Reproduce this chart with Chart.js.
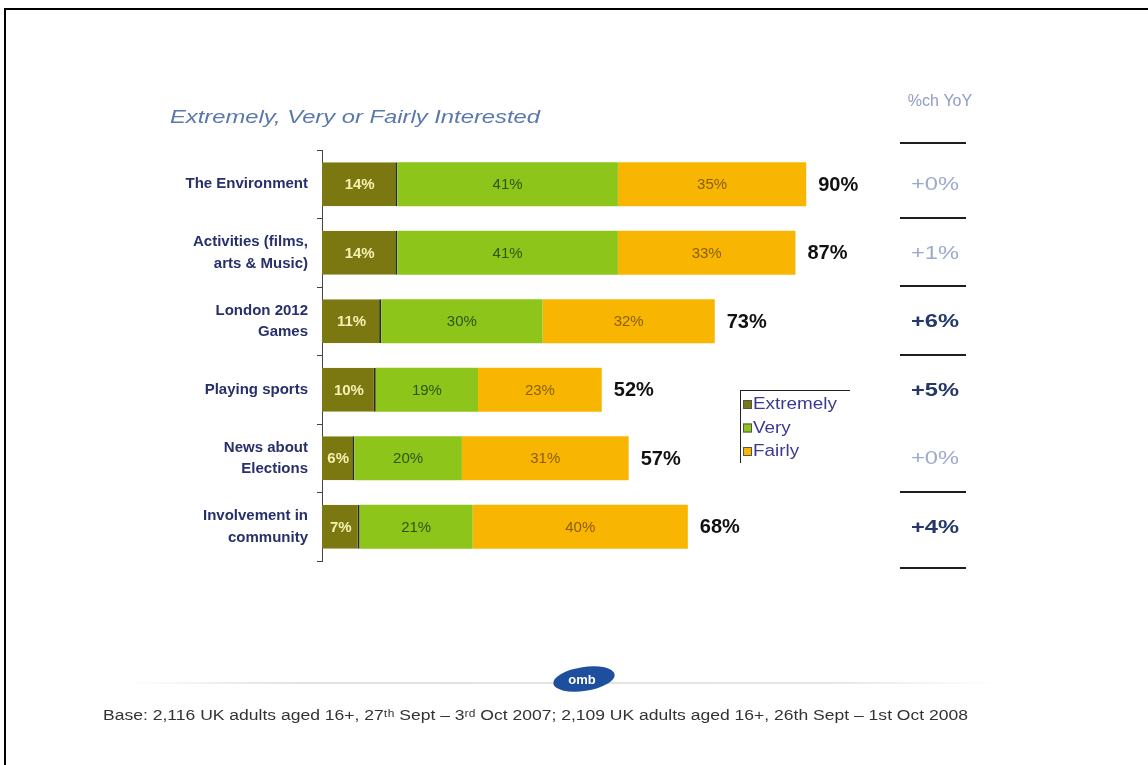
<!DOCTYPE html>
<html>
<head>
<meta charset="utf-8">
<script src="https://cdn.jsdelivr.net/npm/chart.js@4/dist/chart.umd.min.js"></script>
<style>
html,body{margin:0;padding:0;background:#fff;}
#wrap{position:relative;width:1148px;height:765px;}
canvas{display:block;}
</style>
</head>
<body>
<div id="wrap"><canvas id="c" width="1148" height="765"></canvas></div>
<script>
const categories = [
  'The Environment',
  ['Activities (films,', 'arts & Music)'],
  ['London 2012', 'Games'],
  'Playing sports',
  ['News about', 'Elections'],
  ['Involvement in', 'community']
];
const extremely = [14, 14, 11, 10, 6, 7];
const very = [41, 41, 30, 19, 20, 21];
const fairly = [35, 33, 32, 23, 31, 40];
const totals = [90, 87, 73, 52, 57, 68];
const yoyChange = ['+0%', '+1%', '+6%', '+5%', '+0%', '+4%'];
const yoySignificant = [false, false, true, true, false, true];
const seriesNames = ['Extremely', 'Very', 'Fairly'];
const titleText = 'Extremely, Very or Fairly Interested';
const yoyHeader = '%ch YoY';
const footerText = 'Base: 2,116 UK adults aged 16+, 27\u1d57\u02b0 Sept \u2013 3\u02b3\u1d48 Oct 2007; 2,109 UK adults aged 16+, 26th Sept \u2013 1st Oct 2008';

const COLORS = ['#7b7812', '#8ec51a', '#f8b602'];
const LABEL_COLORS = ['#f4f0b0', '#2f5410', '#8a5e00'];

function fitText(ctx, text, x, y, width) {
  const w = ctx.measureText(text).width;
  ctx.save();
  ctx.translate(x, y);
  ctx.scale(width / w, 1);
  ctx.fillText(text, 0, 0);
  ctx.restore();
}

const decoPlugin = {
  id: 'deco',
  afterDraw(chart) {
    const ctx = chart.ctx;
    const ys = chart.scales.y;
    const ca = chart.chartArea;
    ctx.save();
    // frame lines (top and left)
    ctx.fillStyle = '#000';
    ctx.fillRect(4, 8, 1144, 2);
    ctx.fillRect(4, 8, 2, 757);

    // title
    ctx.font = 'italic 19px Arial';
    ctx.fillStyle = '#5b78ad';
    ctx.textBaseline = 'middle';
    ctx.textAlign = 'left';
    fitText(ctx, titleText, 170, 118, 370);

    // segment labels
    chart.data.datasets.forEach((ds, di) => {
      const meta = chart.getDatasetMeta(di);
      meta.data.forEach((bar, i) => {
        const cx = (bar.x + bar.base) / 2;
        ctx.font = (di === 0 ? 'bold ' : '') + '15px Arial';
        ctx.fillStyle = LABEL_COLORS[di];
        ctx.textAlign = 'center';
        ctx.fillText(ds.data[i] + '%', cx, bar.y + 1);
      });
    });

    // totals
    const lastMeta = chart.getDatasetMeta(chart.data.datasets.length - 1);
    lastMeta.data.forEach((bar, i) => {
      ctx.font = 'bold 20px Arial';
      ctx.fillStyle = '#111';
      ctx.textAlign = 'left';
      ctx.fillText(totals[i] + '%', bar.x + 12, bar.y + 1);
    });

    // YoY column
    const colX = 935;
    ctx.font = '16px Arial';
    ctx.fillStyle = '#8d9cc2';
    ctx.textAlign = 'center';
    ctx.fillText(yoyHeader, 940, 102);
    const step = ys.getPixelForValue(1) - ys.getPixelForValue(0);
    ctx.fillStyle = '#1e1e1e';
    const lineYs = [ca.top - 8];
    for (let i = 0; i < categories.length - 1; i++) {
      if (i === 3) continue;
      lineYs.push(ys.getPixelForValue(i) + step / 2 - 2);
    }
    lineYs.push(ca.bottom + 6);
    lineYs.forEach(y => ctx.fillRect(900, Math.round(y), 66, 2));
    yoyChange.forEach((t, i) => {
      ctx.font = (yoySignificant[i] ? 'bold ' : '') + '18px Arial';
      ctx.fillStyle = yoySignificant[i] ? '#24386a' : '#9eaacb';
      ctx.textAlign = 'left';
      fitText(ctx, t, colX - 24, ys.getPixelForValue(i) + 1, 48);
    });

    // legend
    const lx = 740, ly = 390;
    ctx.fillStyle = '#222';
    ctx.fillRect(lx, ly, 110, 1);
    ctx.fillRect(lx, ly, 1, 73);
    seriesNames.forEach((n, i) => {
      const y = ly + 14 + i * 23.5;
      ctx.fillStyle = COLORS[i];
      ctx.fillRect(lx + 3, y - 4, 9, 9);
      ctx.strokeStyle = '#555';
      ctx.lineWidth = 1;
      ctx.strokeRect(lx + 3.5, y - 3.5, 8, 8);
      ctx.font = '16px Arial';
      ctx.fillStyle = '#3a3a92';
      ctx.textAlign = 'left';
      const w = ctx.measureText(n).width;
      fitText(ctx, n, lx + 13, y + 1, w * 1.18);
    });

    // footer line + logo
    const grad = ctx.createLinearGradient(130, 0, 1000, 0);
    grad.addColorStop(0, 'rgba(220,220,220,0)');
    grad.addColorStop(0.2, 'rgba(225,225,225,1)');
    grad.addColorStop(0.8, 'rgba(230,230,230,1)');
    grad.addColorStop(1, 'rgba(230,230,230,0)');
    ctx.fillStyle = grad;
    ctx.fillRect(130, 682, 870, 2);
    ctx.fillStyle = '#1d4f9e';
    ctx.beginPath();
    ctx.ellipse(584, 679, 31, 12, -0.15, 0, Math.PI * 2);
    ctx.fill();
    ctx.fillStyle = '#fff';
    ctx.font = 'bold 13px Arial';
    ctx.textAlign = 'center';
    ctx.fillText('omb', 582, 680);

    // footer text
    ctx.font = '14px Arial';
    ctx.fillStyle = '#333';
    ctx.textAlign = 'left';
    fitText(ctx, footerText, 103, 716, 865);
    ctx.restore();
  }
};

new Chart(document.getElementById('c'), {
  type: 'bar',
  data: {
    labels: categories,
    datasets: [
      { label: seriesNames[0], data: extremely, backgroundColor: COLORS[0], borderColor: '#2a2a0e', borderWidth: { right: 2, top: 0, bottom: 0, left: 0 }, borderSkipped: false },
      { label: seriesNames[1], data: very, backgroundColor: COLORS[1], borderWidth: 0 },
      { label: seriesNames[2], data: fairly, backgroundColor: COLORS[2], borderWidth: 0 }
    ]
  },
  options: {
    indexAxis: 'y',
    responsive: false,
    animation: false,
    layout: { padding: { left: 0, top: 150, right: 288, bottom: 204 } },
    datasets: { bar: { barPercentage: 0.64, categoryPercentage: 1 } },
    plugins: { legend: { display: false }, tooltip: { enabled: false } },
    scales: {
      x: { stacked: true, min: 0, max: 100, display: false },
      y: {
        stacked: true,
        afterFit(scale) { scale.width = 322; },
        border: { display: true, color: '#444', width: 1 },
        grid: { display: true, drawOnChartArea: false, drawTicks: true, tickLength: 5, color: '#444', offset: true },
        ticks: {
          color: '#27306a',
          font: { family: 'Arial', size: 15, weight: 'bold', lineHeight: 1.45 },
          padding: 9
        }
      }
    }
  },
  plugins: [decoPlugin]
});
</script>
</body>
</html>
